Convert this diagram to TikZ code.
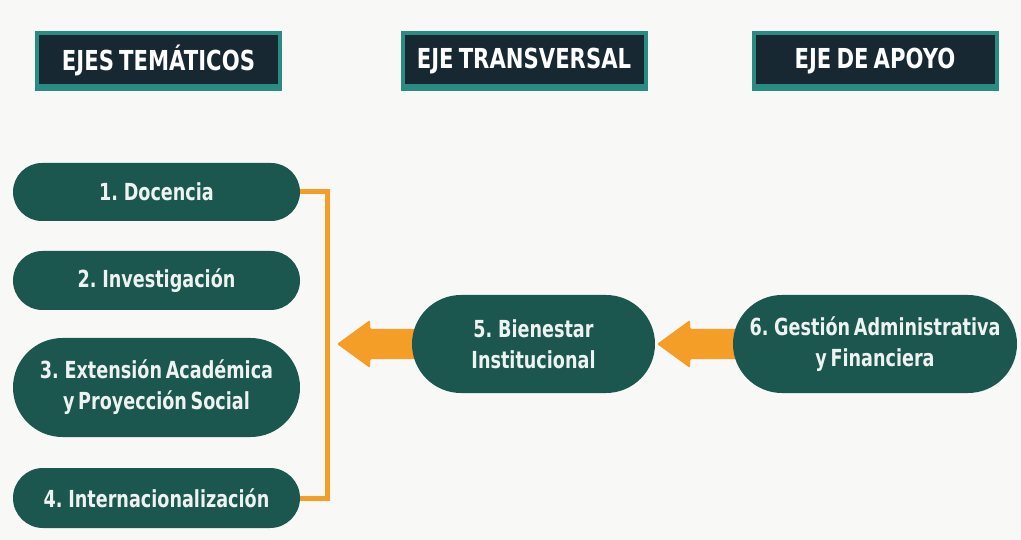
\documentclass[tikz,border=0pt]{standalone}
\usepackage{fontspec}
\usetikzlibrary{shapes.misc,calc}
\newfontfamily\pillfont[FakeStretch=0.75,WordSpace=0.6]{DejaVu Sans}
\newfontfamily\hdrfont[FakeStretch=0.77,WordSpace=0.7]{DejaVu Sans}
\definecolor{bgc}{HTML}{F8F8F7}
\definecolor{pillc}{HTML}{1B564F}
\definecolor{hdrdark}{HTML}{182832}
\definecolor{hdrteal}{HTML}{288C82}
\definecolor{arrowc}{HTML}{F49E28}
\definecolor{txtc}{HTML}{EDF3F1}
\pgfdeclarelayer{bglayer}
\pgfdeclarelayer{arrlayer}
\pgfsetlayers{bglayer,arrlayer,main}
\tikzset{
  pill/.style={rounded rectangle, fill=pillc, text=txtc, align=center,
    inner sep=0pt, font=\pillfont\bfseries\fontsize{23.5}{31}\selectfont},
  hdr/.style={rectangle, fill=hdrteal, text=white, inner sep=0pt,
    minimum width=247pt, minimum height=60pt,
    font=\hdrfont\bfseries\fontsize{27.5}{30}\selectfont,
    path picture={\fill[hdrdark] ([xshift=4pt,yshift=-4pt]path picture bounding box.north west)
      rectangle ([xshift=-4pt,yshift=7pt]path picture bounding box.south east);}},
  bracket/.style={draw=arrowc, line width=5pt},
  fatarrow/.style={fill=arrowc, rounded corners=1.5pt}
}
\begin{document}
\begin{tikzpicture}[x=1pt,y=-1pt]
\begin{pgfonlayer}{bglayer}
\fill[bgc] (0,0) rectangle (1021,540);
\end{pgfonlayer}
\useasboundingbox (0,0) rectangle (1021,540);
% headers
\node[hdr] (h1) at (158.5,61) {\raisebox{1.5pt}{EJES TEMÁTICOS}};
\node[hdr] (h2) at (524,61) {\raisebox{1.5pt}{EJE TRANSVERSAL}};
\node[hdr] (h3) at (875,61) {\raisebox{1.5pt}{EJE DE APOYO}};
% pills
\node[pill, minimum width=287pt, minimum height=58pt] (p1) at (156.5,192) {1. Docencia};
\node[pill, minimum width=287pt, minimum height=59pt] (p2) at (156.5,280.5) {2. Investigación};
\node[pill, minimum width=287pt, minimum height=99pt] (p3) at (156.5,387.5) {3. Extensión Académica\\y Proyección Social};
\node[pill, minimum width=287pt, minimum height=60pt] (p4) at (156.5,498) {4. Internacionalización};
\node[pill, minimum width=243pt, minimum height=98pt] (p5) at (533.5,344) {5. Bienestar\\Institucional};
\node[pill, minimum width=284pt, minimum height=98pt] (p6) at (875,344) {6. Gestión Administrativa\\y Financiera};
% bracket
\coordinate (bx) at (327,0);
\begin{pgfonlayer}{arrlayer}
\draw[bracket] ($(p1.east)+(-6,0)$) -- (p1.east -| bx) -- (p4.east -| bx) -- ($(p4.east)+(-6,0)$);
\coordinate (t1) at (337,344);
\coordinate (t2) at (657,344);
\fill[fatarrow] ($(p5.west)+(10,-15)$) -- ($(t1)+(33,-15)$) -- ($(t1)+(33,-24)$) -- (t1)
  -- ($(t1)+(33,24)$) -- ($(t1)+(33,15)$) -- ($(p5.west)+(10,15)$) -- cycle;
\fill[fatarrow] ($(p6.west)+(10,-15)$) -- ($(t2)+(33,-15)$) -- ($(t2)+(33,-24)$) -- (t2)
  -- ($(t2)+(33,24)$) -- ($(t2)+(33,15)$) -- ($(p6.west)+(10,15)$) -- cycle;
\end{pgfonlayer}
\end{tikzpicture}
\end{document}
